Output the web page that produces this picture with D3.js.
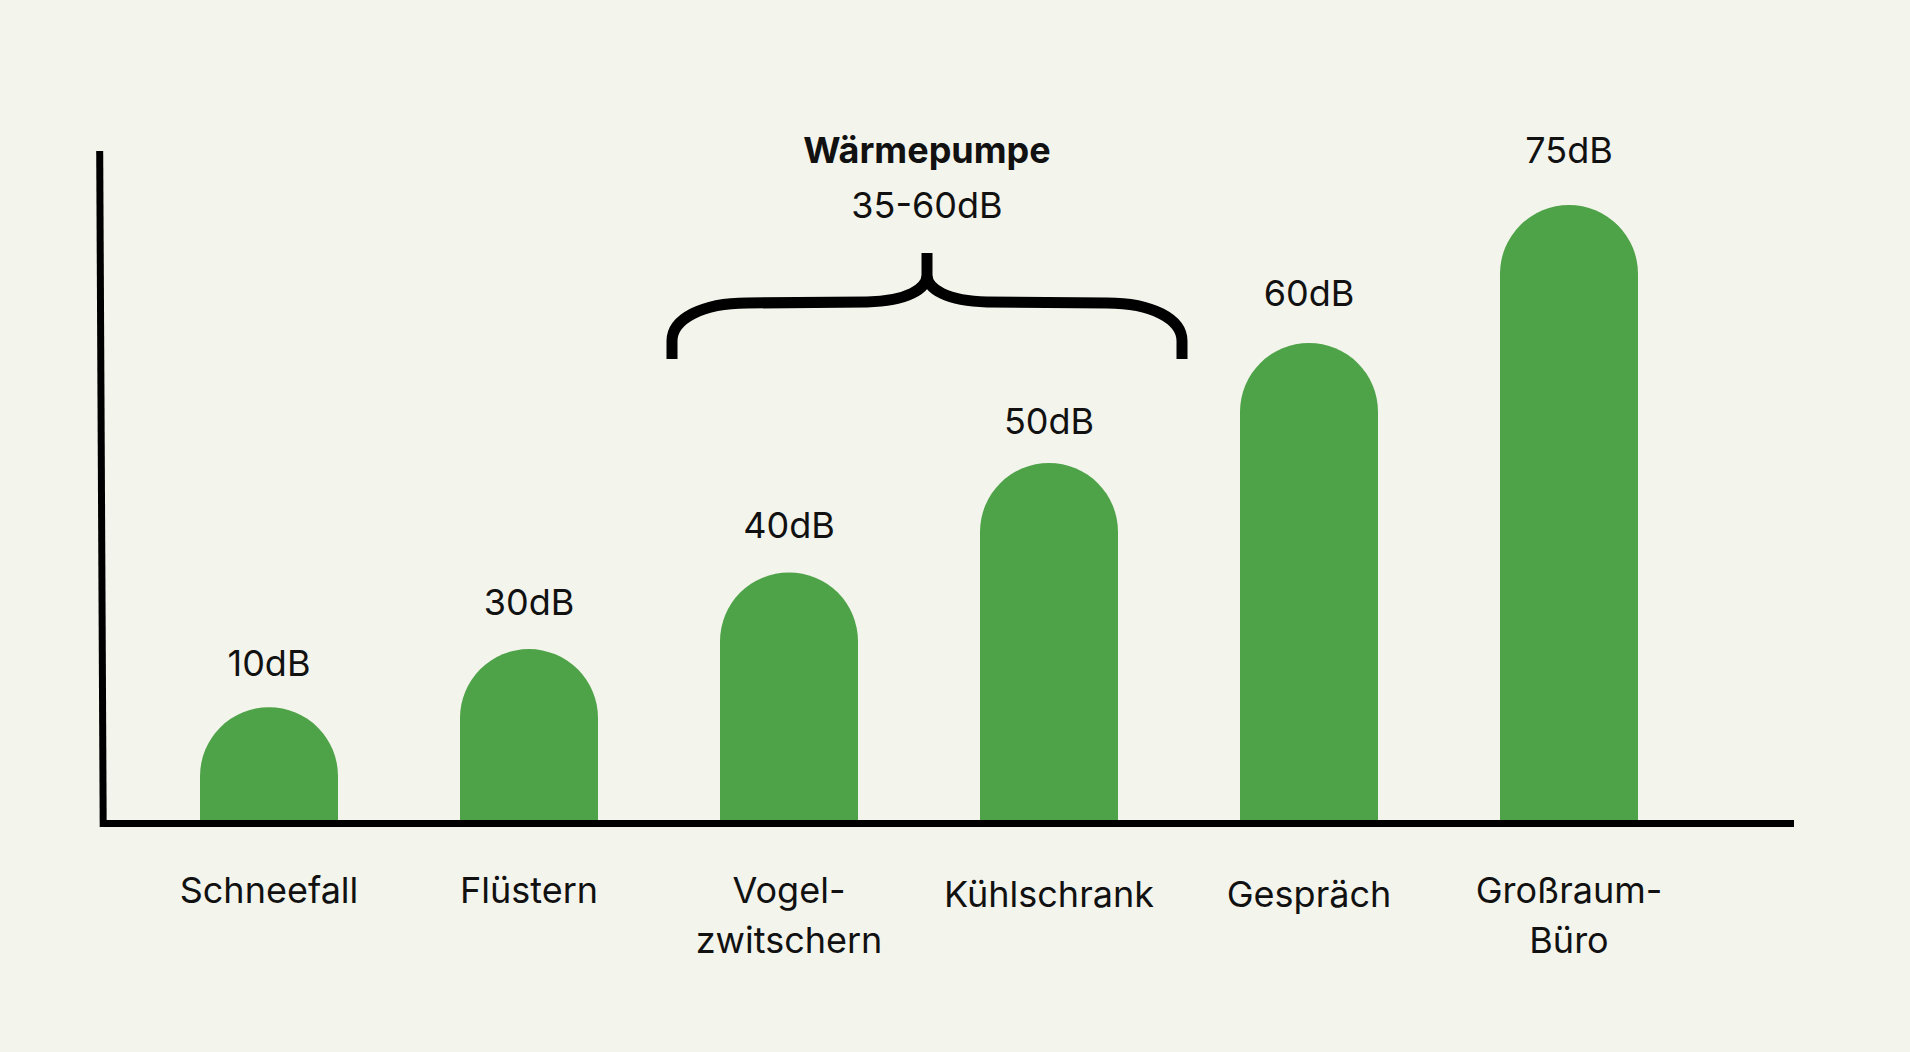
<!DOCTYPE html>
<html>
<head>
<meta charset="utf-8">
<title>Lautstärke Wärmepumpe</title>
<script src="https://d3js.org/d3.v7.min.js"></script>
<style>
  html, body { margin: 0; padding: 0; background: #f3f4ec; }
  svg { display: block; }
  .label { font-family: 'Inter', 'Noto Sans', sans-serif; font-size: 36px; fill: #111; text-anchor: middle; }
  .bold { font-weight: 700; }
</style>
</head>
<body>
<div id="chart"></div>
<script>
// data
var categories = [["Schneefall"], ["Flüstern"], ["Vogel-", "zwitschern"], ["Kühlschrank"], ["Gespräch"], ["Großraum-", "Büro"]];
var decibels = [10, 30, 40, 50, 60, 75];
// bar heights as drawn (relative to the tallest bar)
var barLevel = [18.8, 28.2, 40.6, 58.3, 77.7, 100];
var rangeTitle = "Wärmepumpe";
var rangeText = "35-60dB";

// layout
var W = 1910, H = 1052;
var base = 823.5;
var barW = 138;
var valueGap = [31, 34, 34, 29, 37, 42];
var catY = [903, 903, 903, 907, 907, 903];

var svg = d3.select("#chart").append("svg")
    .attr("width", W)
    .attr("height", H);

var keys = categories.map(function(c) { return c.join(""); });

var x = d3.scalePoint()
    .domain(keys)
    .range([269, 1569]);

var y = d3.scaleLinear()
    .domain([0, 100])
    .range([base, 205]);

var data = keys.map(function(k, i) {
  return { key: k, i: i, lines: categories[i], db: decibels[i], level: barLevel[i] };
});

// bars with round tops
function barPath(d) {
  var cx = x(d.key), r = barW / 2;
  var top = y(d.level), x0 = cx - r, x1 = cx + r;
  return "M" + x0 + "," + base +
         "L" + x0 + "," + (top + r) +
         "A" + r + "," + r + " 0 0 1 " + x1 + "," + (top + r) +
         "L" + x1 + "," + base + "Z";
}

svg.selectAll(".bar")
    .data(data)
    .enter()
    .append("path")
    .attr("class", "bar")
    .attr("fill", "#4ea247")
    .attr("d", barPath);

svg.selectAll(".value")
    .data(data)
    .enter()
    .append("text")
    .attr("class", "label value")
    .attr("x", function(d) { return x(d.key); })
    .attr("y", function(d) { return y(d.level) - valueGap[d.i]; })
    .text(function(d) { return d.db + "dB"; });

// axes
svg.append("line")
    .attr("x1", 99.7).attr("y1", 151)
    .attr("x2", 103.2).attr("y2", 827)
    .attr("stroke", "#000")
    .attr("stroke-width", 7);

svg.append("line")
    .attr("x1", 100).attr("y1", base)
    .attr("x2", 1794).attr("y2", base)
    .attr("stroke", "#000")
    .attr("stroke-width", 7);

// category labels
var cat = svg.selectAll(".cat")
    .data(data)
    .enter()
    .append("text")
    .attr("class", "label cat")
    .attr("x", function(d) { return x(d.key); })
    .attr("y", function(d) { return catY[d.i]; });

cat.selectAll("tspan")
    .data(function(d) { return d.lines.map(function(l) { return { t: l, cx: x(d.key) }; }); })
    .enter()
    .append("tspan")
    .attr("x", function(d) { return d.cx; })
    .attr("dy", function(d, i) { return i === 0 ? 0 : 50; })
    .text(function(d) { return d.t; });

// brace over Vogelzwitschern and Kühlschrank
var bx = (x(keys[2]) + x(keys[3])) / 2 + 8;
var half = 255;
var yEnd = 359, yMid = 303, yPeak = 253;
var L = bx - half, R = bx + half;
var brace = "M" + L + "," + yEnd +
    "L" + L + "," + (yEnd - 18) +
    "C" + L + "," + (yMid + 16) + " " + (L + 30) + "," + yMid + " " + (L + 75) + "," + yMid +
    "L" + (bx - 60) + "," + (yMid - 1) +
    "C" + (bx - 20) + "," + (yMid - 2) + " " + bx + "," + (yMid - 14) + " " + bx + "," + (yPeak + 22) +
    "L" + bx + "," + yPeak +
    "M" + bx + "," + (yPeak + 22) +
    "C" + bx + "," + (yMid - 14) + " " + (bx + 20) + "," + (yMid - 2) + " " + (bx + 60) + "," + (yMid - 1) +
    "L" + (R - 75) + "," + yMid +
    "C" + (R - 30) + "," + yMid + " " + R + "," + (yMid + 16) + " " + R + "," + (yEnd - 18) +
    "L" + R + "," + yEnd;

svg.append("path")
    .attr("d", brace)
    .attr("fill", "none")
    .attr("stroke", "#000")
    .attr("stroke-width", 11)
    .attr("stroke-linejoin", "round");

svg.append("text")
    .attr("class", "label bold")
    .attr("x", bx)
    .attr("y", 163)
    .text(rangeTitle);

svg.append("text")
    .attr("class", "label")
    .attr("x", bx)
    .attr("y", 218)
    .text(rangeText);
</script>
</body>
</html>
